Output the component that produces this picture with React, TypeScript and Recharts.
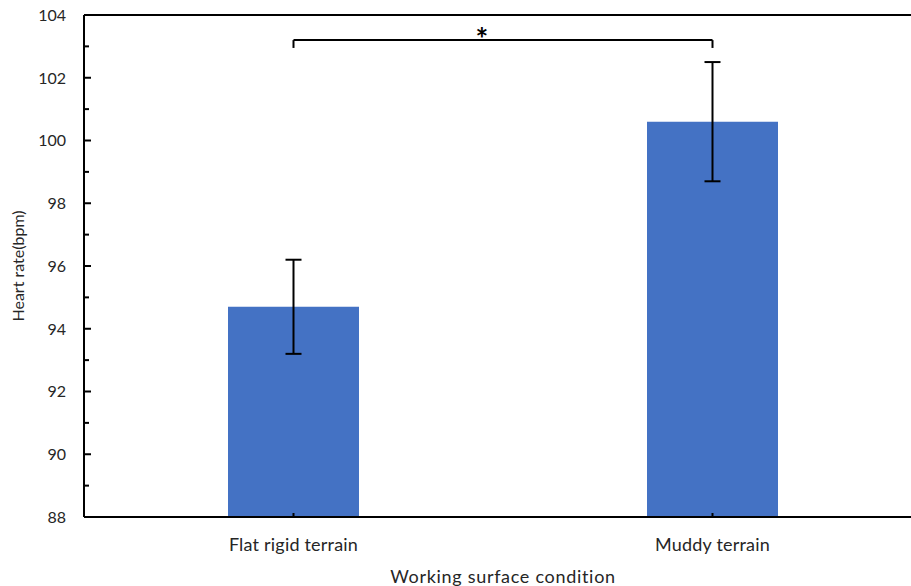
import React from 'react';
import { Bar, BarChart, ErrorBar, ReferenceLine, XAxis, YAxis } from 'recharts';

// values
const categories = ['Flat rigid terrain', 'Muddy terrain'];
const heartRate = [94.7, 100.6];
const heartRateSd = [1.5, 1.9];
const yTicks = [88, 89, 90, 91, 92, 93, 94, 95, 96, 97, 98, 99, 100, 101, 102, 103, 104];
const bracketY = 103.2;
const bracketDrop = 102.95;

const BLUE = '#4472C4';
const INK = '#262626';
const FONT = 'Lato, "Open Sans", sans-serif';

const data = categories.map((name, i) => ({
  name,
  value: heartRate[i],
  sd: heartRateSd[i],
}));

const YTick = (props: any) => {
  const { x, y, payload } = props;
  const major = payload.value % 2 === 0;
  return (
    <g>
      <line x1={x} y1={y} x2={x + (major ? 7 : 5)} y2={y} stroke="#000" strokeWidth={2} />
      {major && (
        <text x={x - 18} y={y} dy="0.36em" textAnchor="end" fill={INK} fontSize={16} fontFamily={FONT}>
          {payload.value}
        </text>
      )}
    </g>
  );
};

const XTick = (props: any) => {
  const { x, y, payload } = props;
  return (
    <g>
      <line x1={x} y1={y} x2={x} y2={y - 4} stroke="#000" strokeWidth={2} />
      <text x={x} y={y + 34} textAnchor="middle" fill={INK} fontSize={18} letterSpacing={0.2} fontFamily={FONT}>
        {payload.value}
      </text>
    </g>
  );
};

export default function App() {
  return (
    <div style={{ position: 'absolute', left: 0, top: 0, width: 911, height: 586, overflow: 'hidden', background: '#fff' }}>
      <BarChart width={922} height={586} data={data} margin={{ top: 15, right: 0, left: 0, bottom: 0 }}>
        <XAxis
          dataKey="name"
          height={69}
          tickSize={0}
          tickMargin={0}
          tick={<XTick />}
          axisLine={{ stroke: '#000', strokeWidth: 2 }}
          label={{
            value: 'Working surface condition',
            position: 'insideBottom',
            offset: 3,
            fill: INK,
            fontSize: 18,
            fontFamily: FONT,
            letterSpacing: 0.7,
          }}
        />
        <YAxis
          width={84}
          domain={[88, 104]}
          ticks={yTicks}
          interval={0}
          allowDataOverflow
          tickSize={0}
          tickMargin={0}
          tick={<YTick />}
          axisLine={{ stroke: '#000', strokeWidth: 2 }}
          label={{
            value: 'Heart rate(bpm)',
            angle: -90,
            position: 'insideLeft',
            offset: 18,
            fill: INK,
            fontSize: 16,
            fontFamily: FONT,
            style: { textAnchor: 'middle' },
          }}
        />
        <ReferenceLine y={104} stroke="#000" strokeWidth={2} />
        <Bar dataKey="value" fill={BLUE} barSize={131} isAnimationActive={false}>
          <ErrorBar dataKey="sd" width={8} stroke="#000" strokeWidth={2} />
        </Bar>
        <ReferenceLine
          segment={[{ x: categories[0], y: bracketY }, { x: categories[1], y: bracketY }]}
          stroke="#000"
          strokeWidth={2}
          label={({ viewBox }: any) => (
            <text
              x={viewBox.x + viewBox.width / 2 - 21}
              y={viewBox.y + 10}
              textAnchor="middle"
              fill="#000"
              fontSize={30}
              fontWeight="bold"
              fontFamily={FONT}
            >
              *
            </text>
          )}
        />
        <ReferenceLine
          segment={[{ x: categories[0], y: bracketY }, { x: categories[0], y: bracketDrop }]}
          stroke="#000"
          strokeWidth={2}
        />
        <ReferenceLine
          segment={[{ x: categories[1], y: bracketY }, { x: categories[1], y: bracketDrop }]}
          stroke="#000"
          strokeWidth={2}
        />
      </BarChart>
    </div>
  );
}
